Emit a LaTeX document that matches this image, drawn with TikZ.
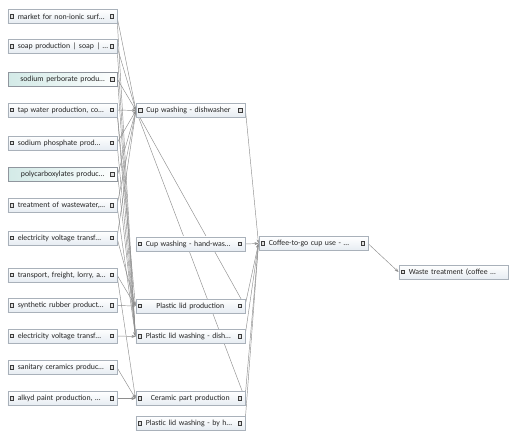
\documentclass[tikz,border=0pt]{standalone}
\usepackage{fontspec}
\setmainfont{Carlito}
\usetikzlibrary{arrows.meta}
\pgfdeclarelayer{background}
\pgfsetlayers{background,main}
\definecolor{boxborder}{HTML}{A9B1BA}
\definecolor{boxbottom}{HTML}{E6ECF2}
\definecolor{hlteal}{HTML}{D3EAE7}
\definecolor{edgegray}{HTML}{8E8E8E}
\definecolor{icongray}{HTML}{3C3C3C}
\tikzset{
  procbase/.style={draw=boxborder, line width=0.5pt,
    minimum height=14pt, text width=89pt, inner xsep=10pt, inner ysep=0pt,
    align=left, anchor=west, font=\fontsize{7.8}{9}\selectfont, text=black!85},
  proc/.style={procbase, top color=white, bottom color=boxbottom},
  ctr/.style={align=center},
  hl/.style={procbase, align=center, draw=boxborder!85!black, line width=1.1pt, left color=hlteal, right color=white!96!hlteal},
  icon/.style={draw=icongray, line width=0.75pt, fill=white!75!gray, minimum size=3.6pt, inner sep=0pt},
  edge/.style={draw=edgegray, line width=0.45pt, -{Stealth[length=4pt,width=3pt]}},
}
\newcommand{\iconL}[1]{\node[icon] at ([xshift=4.5pt]#1.west) {};}
\newcommand{\iconR}[1]{\node[icon] at ([xshift=-5pt]#1.east) {};}
\begin{document}
\begin{tikzpicture}[x=1pt,y=-1pt]
\begin{pgfonlayer}{background}
\useasboundingbox[fill=white] (0,0) rectangle (520,441);
\end{pgfonlayer}
% left column
\node[proc] (m1) at (7.5,16.5) {\mbox{market for non-ionic surf\ldots}};
\node[proc] (m2) at (7.5,46.5) {\mbox{soap production | soap | \ldots}};
\node[hl] (m3) at (7.5,79.5) {\mbox{sodium perborate produ\ldots}};
\node[proc] (m4) at (7.5,110) {\mbox{tap water production, co\ldots}};
\node[proc] (m5) at (7.5,143) {\mbox{sodium phosphate prod\ldots}};
\node[hl] (m6) at (7.5,174.5) {\mbox{polycarboxylates produc\ldots}};
\node[proc] (m7) at (7.5,205.5) {\mbox{treatment of wastewater,\ldots}};
\node[proc] (m8) at (7.5,238) {\mbox{electricity voltage transf\ldots}};
\node[proc] (m9) at (7.5,275) {\mbox{transport, freight, lorry, a\ldots}};
\node[proc] (m10) at (7.5,305.5) {\mbox{synthetic rubber product\ldots}};
\node[proc] (m11) at (7.5,336) {\mbox{electricity voltage transf\ldots}};
\node[proc] (m12) at (7.5,367.5) {\mbox{sanitary ceramics produc\ldots}};
\node[proc] (m13) at (7.5,398.5) {\mbox{alkyd paint production, \ldots}};
% middle column
\node[proc] (d) at (136,110.5) {\mbox{Cup washing - dishwasher}};
\node[proc] (h) at (135.5,244) {\mbox{Cup washing - hand-was\ldots}};
\node[proc,ctr] (plp) at (135.5,306) {\mbox{Plastic lid production}};
\node[proc] (plwd) at (135.5,336.5) {\mbox{Plastic lid washing - dish\ldots}};
\node[proc,ctr] (cer) at (135.5,398.5) {\mbox{Ceramic part production}};
\node[proc] (plwh) at (135.5,423.5) {\mbox{Plastic lid washing - by h\ldots}};
% right
\node[proc] (cof) at (258.5,243.5) {\mbox{Coffee-to-go cup use - \ldots}};
\node[proc] (wst) at (398.5,272) {\mbox{Waste treatment (coffee \ldots}};
% icons
\foreach \n in {m1,m2,m4,m5,m7,m8,m9,m10,m11,m12,m13,d,h,plp,plwd,cer,plwh,cof,wst} {\iconL{\n}}
\foreach \n in {m1,m2,m3,m4,m5,m6,m7,m8,m9,m10,m11,m12,m13,d,h,plp,plwd,cer,plwh,cof} {\iconR{\n}}
\begin{pgfonlayer}{background}
% edges into dishwasher
\foreach \s in {m1,m2,m3,m4,m5,m6,m7,m8} {\draw[edge] (\s.east) -- (d.west);}
% edges into plastic lid washing (dishwasher)
\foreach \s in {m1,m2,m3,m4,m5,m6,m7,m11} {\draw[edge] (\s.east) -- (plwd.west);}
% plastic lid production
\foreach \s in {m4,m8,m9,m10} {\draw[edge] (\s.east) -- (plp.west);}
% ceramic
\foreach \s in {m9,m12,m13} {\draw[edge] (\s.east) -- (cer.west);}
% long edges
\draw[edge] (plp.east) -- (d.west);
\draw[edge] (cer.east) -- (d.west);
% into coffee
\foreach \s in {d,h,plp,plwd,cer,plwh} {\draw[edge] (\s.east) -- (cof.west);}
\draw[edge] (cof.east) -- (wst.west);
\end{pgfonlayer}
\end{tikzpicture}
\end{document}
